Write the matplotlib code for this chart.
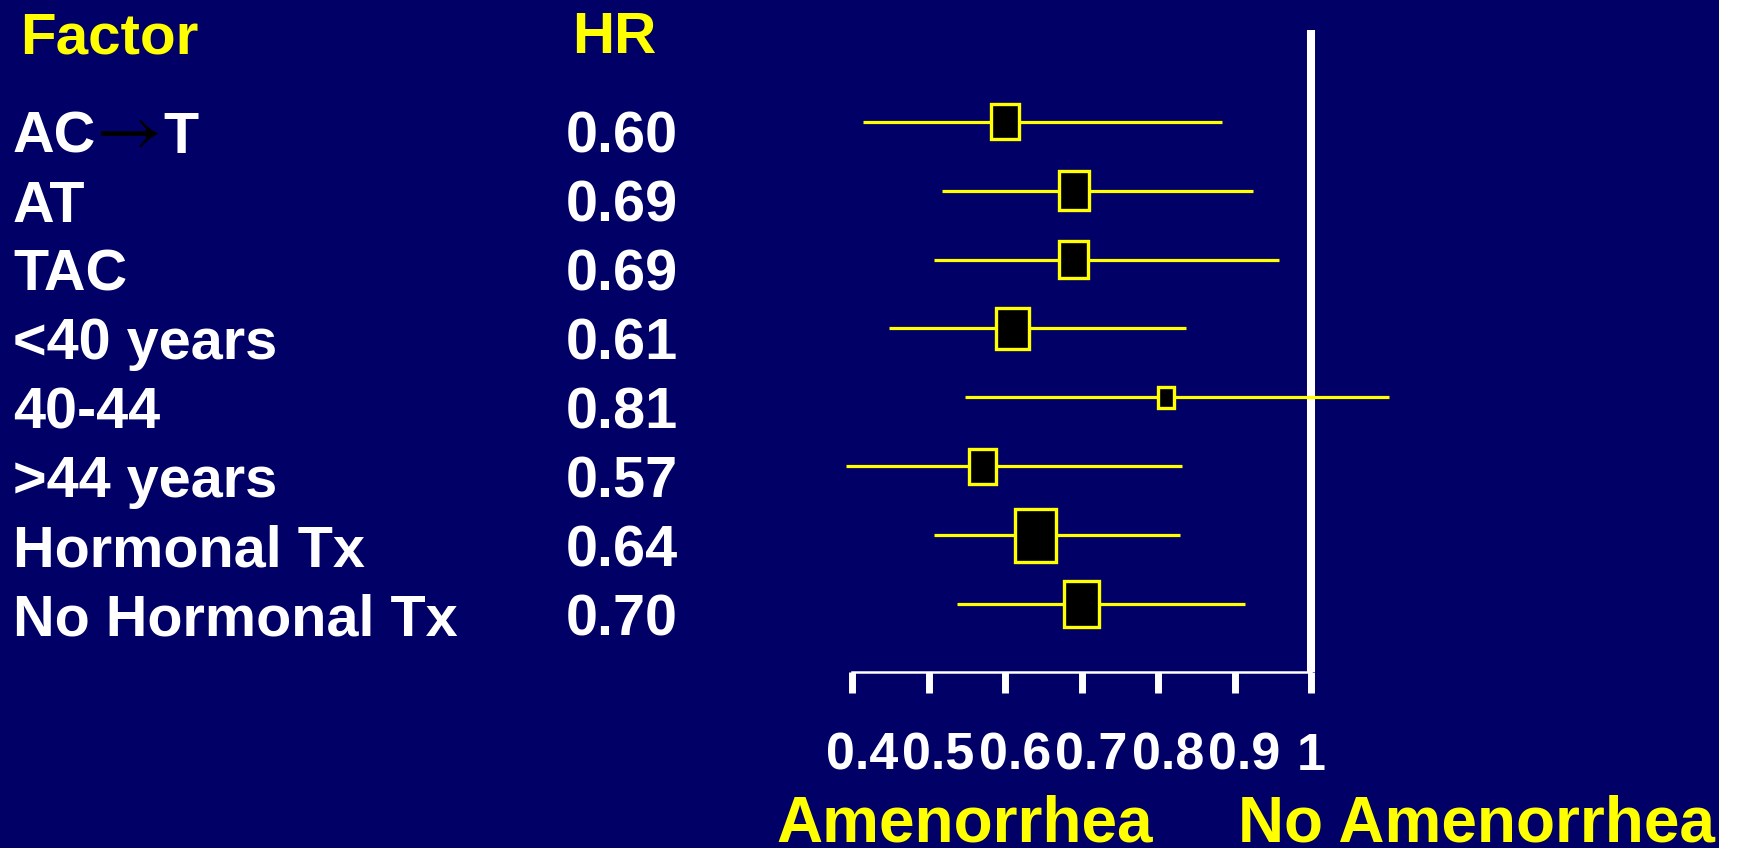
import matplotlib.pyplot as plt
import matplotlib.transforms as mtransforms
from matplotlib.patches import Rectangle

# hazard ratios for amenorrhea by subgroup
factors = ["AC→T", "AT", "TAC", "<40 years", "40-44", ">44 years", "Hormonal Tx", "No Hormonal Tx"]
hazard_ratios = [0.60, 0.69, 0.69, 0.61, 0.81, 0.57, 0.64, 0.70]
ci_lower = [0.414, 0.518, 0.507, 0.449, 0.548, 0.392, 0.507, 0.537]
ci_upper = [0.884, 0.924, 0.958, 0.837, 1.102, 0.832, 0.829, 0.914]
# relative box size (subgroup weight)
weights = [0.68, 0.75, 0.73, 0.80, 0.43, 0.68, 1.00, 0.875]
hr_ticks = [0.4, 0.5, 0.6, 0.7, 0.8, 0.9, 1.0]
hr_tick_labels = ["0.4", "0.5", "0.6", "0.7", "0.8", "0.9", "1"]

NAVY = "#000066"
YELLOW = "#ffff00"
W, H, DPI = 1739, 848, 100

plt.rcParams["font.family"] = ["Liberation Sans", "DejaVu Sans"]
plt.rcParams["font.weight"] = "bold"


def fx(px):
	return px / W


def fy(px):
	return 1.0 - px / H


def put_text(fig, renderer, s, x, y, trans, **kw):
	"""Draw s at (x, y) and return the figure x where it ends"""
	t = fig.text(x, y, s, transform=trans, va="baseline", ha="left", **kw)
	return t.get_window_extent(renderer).x1 / W


def draw_factor(fig, renderer, label, y, trans):
	# the arrow in regimen names is set in a thin black serif glyph
	parts = label.split("→")
	x = fx(13)
	for k, part in enumerate(parts):
		if k > 0:
			x = put_text(fig, renderer, "→", x, y, trans, color="black", fontsize=52,
				family=["STIXGeneral", "DejaVu Serif"], weight="normal")
		x = put_text(fig, renderer, part, x, y, trans, color="white", fontsize=41.5)


fig = plt.figure(figsize=(W / DPI, H / DPI), dpi=DPI, facecolor=NAVY)
fig.patches.append(Rectangle((fx(1719), 0), 1 - fx(1719), 1, transform=fig.transFigure,
	facecolor="white", edgecolor="none"))
renderer = fig.canvas.get_renderer()

# forest plot: HR 0.4-1.0 across the axes, one row every 68.9 px
row_gap = 68.9
first_row = 121.7
ax = fig.add_axes([fx(852), fy(672), (1311 - 852) / W, (672 - 30) / H])
ax.set_facecolor("none")
ax.set_xlim(0.4, 1.0)
ax.set_ylim((672 - first_row) / row_gap, (30 - first_row) / row_gap)

rows = list(range(len(factors)))
ax.axvline(1.0, color="white", lw=5.8, zorder=1, solid_capstyle="butt", clip_on=False)
ax.hlines(rows, ci_lower, ci_upper, color=YELLOW, lw=2.3, zorder=2, clip_on=False)
px_per_hr = (1311 - 852) / 0.6
for r, hr, wt in zip(rows, hazard_ratios, weights):
	h_px = wt * 56
	w_px = 0.79 * h_px
	bw = (w_px - 3) / px_per_hr
	bh = (h_px - 3) / row_gap
	ax.add_patch(Rectangle((hr - bw / 2, r - bh / 2), bw, bh, facecolor="black",
		edgecolor=YELLOW, lw=2.4, zorder=3, clip_on=False))

# axis
for side in ("top", "left", "right"):
	ax.spines[side].set_visible(False)
ax.spines["bottom"].set_color("white")
ax.spines["bottom"].set_linewidth(1.8)
ax.set_yticks([])
ax.set_xticks(hr_ticks)
ax.set_xticklabels(hr_tick_labels)
ax.tick_params(axis="x", direction="out", length=15, width=5, color="white",
	labelcolor="white", labelsize=37.5, pad=28)
shift = mtransforms.ScaledTranslation(10 / DPI, 0, fig.dpi_scale_trans)
for label in ax.get_xticklabels()[:-1]:
	label.set_transform(label.get_transform() + shift)

# factor names and HR values, baseline a little under each row line
row_trans = mtransforms.blended_transform_factory(fig.transFigure, ax.transData) + \
	mtransforms.ScaledTranslation(0, -31 / DPI, fig.dpi_scale_trans)
for r, name, hr in zip(rows, factors, hazard_ratios):
	draw_factor(fig, renderer, name, r, row_trans)
	fig.text(fx(566), r, "{:.2f}".format(hr), transform=row_trans, va="baseline",
		color="white", fontsize=41.5)

# headers
fig.text(fx(20), fy(53), "Factor", color=YELLOW, fontsize=42, va="baseline")
fig.text(fx(572), fy(53), "HR", color=YELLOW, fontsize=42, va="baseline")
fig.text(fx(776), fy(842), "Amenorrhea", color=YELLOW, fontsize=46, va="baseline")
fig.text(fx(1238), fy(842), "No Amenorrhea", color=YELLOW, fontsize=46, va="baseline")

plt.savefig("out.png", dpi=DPI, facecolor=NAVY)
plt.close(fig)
